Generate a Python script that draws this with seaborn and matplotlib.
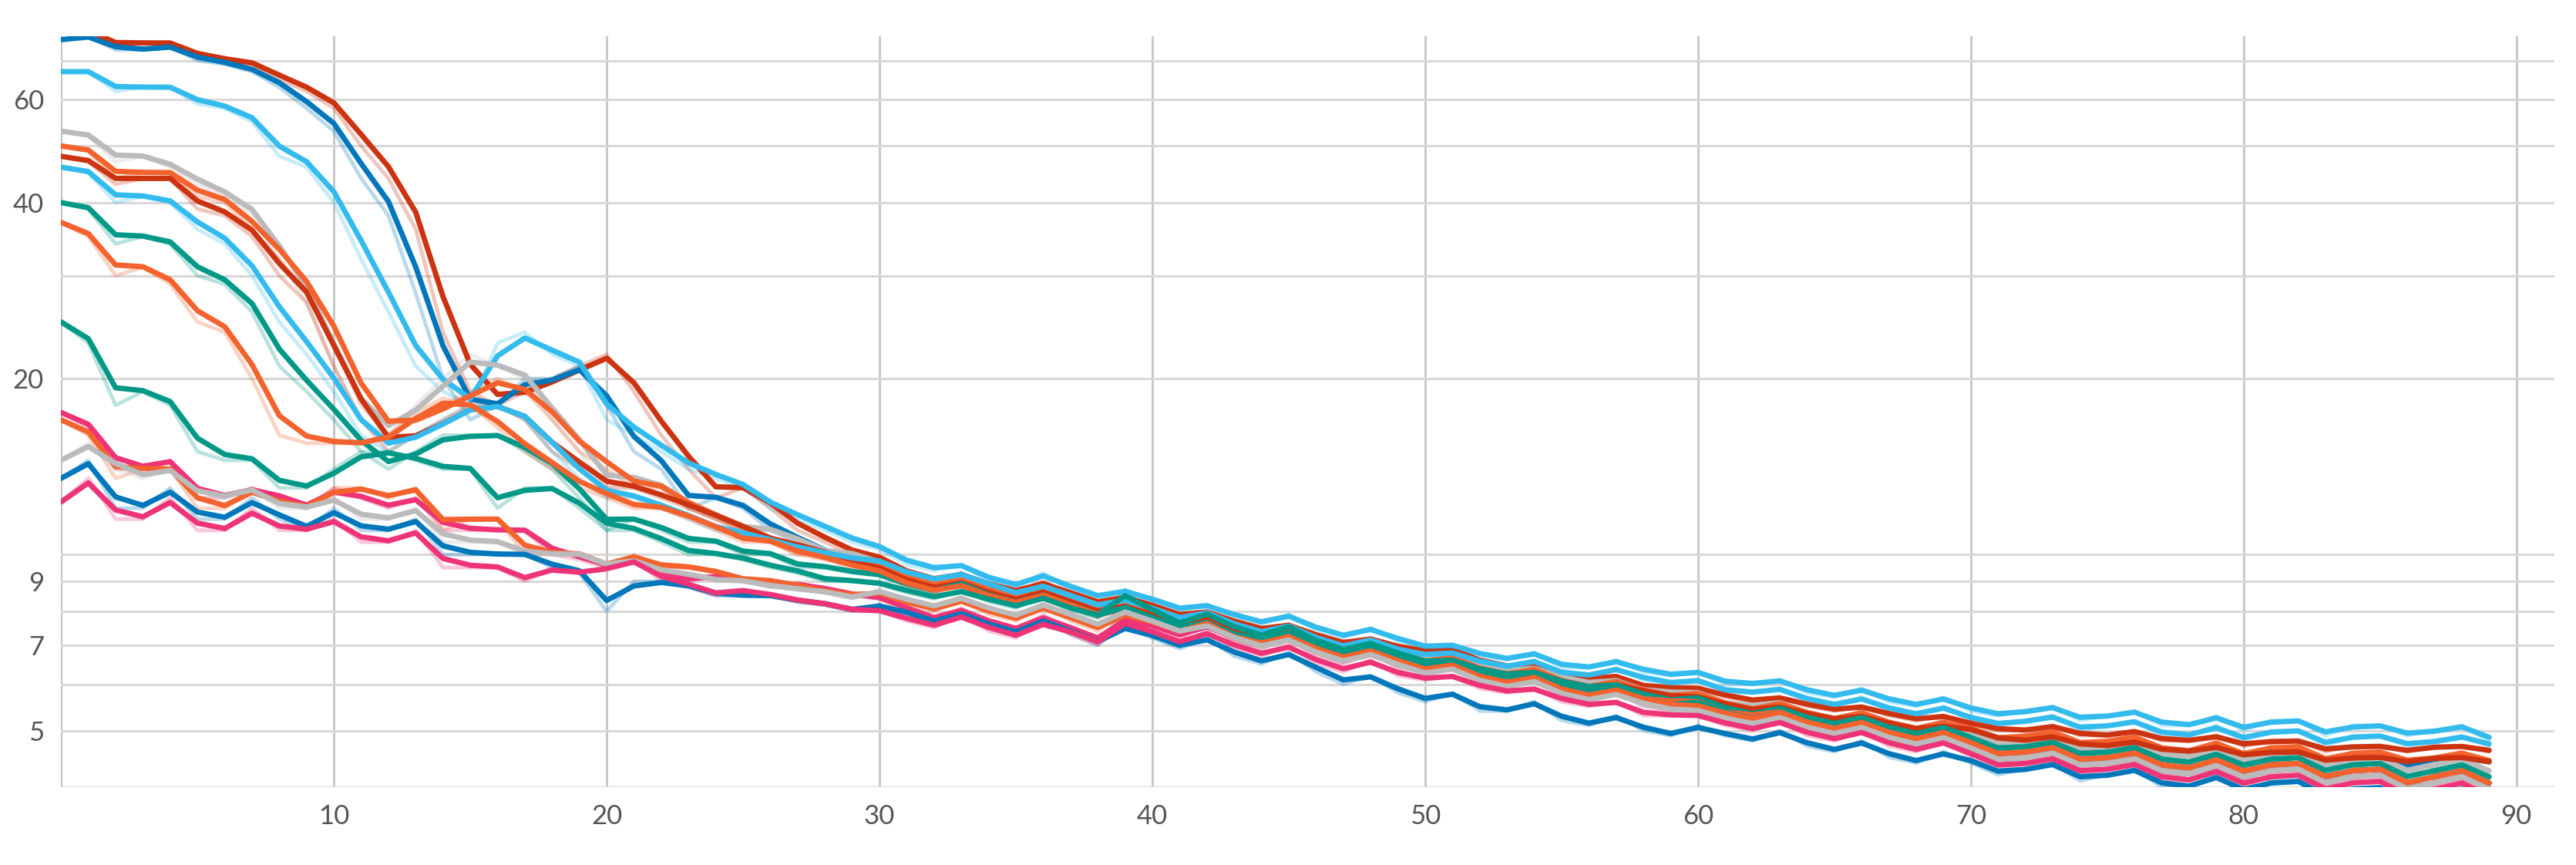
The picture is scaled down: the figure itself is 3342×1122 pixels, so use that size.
import numpy as np
import pandas as pd
import matplotlib.pyplot as plt
import seaborn as sns

# raw values per run, steps 0..89 (head 0..29 + tail 30..89)
head = {
    "A": [78,79,74,75,75,71,70,69,65,62,58,50,44,36,24,19,18,19,20,21,22,19,16,14,12.5,13,12,11,10.5,10],
    "B": [76,77,73,73,74,70,69,67,63,58,53,44,38,28,20,17,18,20,20,21,18,15,14,12,12.5,12,11,10.5,10,9.8],
    "C": [67,67,62,63,63,59,58,55,48,46,40,32,26,21,19,18,23,24,22,21,17,16,15,14,13.5,13,12,11.5,11,10.5],
    "D": [53,52,47,48,46,43,41,38,32,27,21,17,16,18,20,22,21,20,17,15,13,13.5,13,12,11.5,11,11,10.5,10,10],
    "E": [50,49,44,45,45,41,40,36,32,28,23,18,16,17,18,19,20,19,17,15,14,13,13,12,11.5,11,10.5,10,10,9.7],
    "F": [48,47,43,44,44,39,38,35,30,27,21,17,15,16,17,18,18,17,15,14,13,13,12.5,12,11.5,11,10.5,10.3,10,9.6],
    "G": [46,45,40,41,40,36,34,30,25,22,19,16,15,16,17,18,18,17,15,13.5,12.5,12.5,12,11.5,11,10.8,10.5,10.2,10,9.8],
    "H": [40,39,34,35,34,30,29,26,21,19,17,15,14,15,16,16,16,15,14,12.5,11,11.5,11,10.5,10.5,10,10,9.5,9.5,9.3],
    "I": [37,35,30,31,29,25,24,20,16,15.5,15.5,15.5,16,17.5,18.5,18,16.5,15,14,13,12.5,12,12,11.5,11,10.5,10.5,10,9.8,9.5],
    "J": [25,23,18,19,18,15,14.5,14.5,13,13,14,15,15,14.5,14,14,12,13,13,12,11,11,10.5,10,10,9.8,9.5,9.3,9,9],
    "K": [17.5,16.5,14,14,14.5,12.5,12.5,13,12.5,12,13,12.5,12,12.5,11,11,11,11,10,9.8,9.5,9.8,9.2,9,9.2,9,8.8,8.9,8.7,8.5],
    "L": [17,16,13.5,14,14,12,12,13,12.2,12,13,13,12.5,13,11,11.5,11.5,10,10,10,9.5,10,9.5,9.5,9.3,9,9,8.8,8.6,8.5],
    "M": [14.5,15.5,14,13.5,14,12.5,12.5,13,12,12,12.5,11.5,11.5,12,10.5,10.5,10.5,10,10,10,9.5,9.8,9.3,9.2,9,9,8.8,8.7,8.6,8.4],
    "N": [13.5,14.5,12,12,13,11.5,11.5,12.5,11.5,11,12,11,11,11.5,10,10,10,10,9.5,9.3,8,9,9,8.8,8.5,8.5,8.5,8.3,8.2,8],
    "O": [12.3,13.5,11.5,11.5,12.5,11,11,12,11,11,11.5,10.5,10.5,11,9.5,9.5,9.5,9,9.5,9.3,9.5,9.8,9,8.8,8.5,8.7,8.5,8.3,8.2,8],
}
tail = {
    "A": "9.8 9.2 9.0 9.3 8.8 8.6 9.0 8.5 8.2 8.5 8.1 7.8 8.0 7.6 7.4 7.6 7.2 7.0 7.2 6.9 6.8 6.9 6.5 6.4 6.5 6.2 6.1 6.2 5.9 5.9 5.9 5.7 5.6 5.7 5.5 5.4 5.5 5.3 5.2 5.3 5.1 5.0 5.0 5.1 4.9 4.9 5.0 4.8 4.8 4.9 4.7 4.8 4.8 4.6 4.7 4.7 4.6 4.7 4.7 4.6",
    "B": "9.5 9.0 8.7 9.0 8.5 8.3 8.8 8.2 7.9 8.3 7.8 7.5 7.8 7.3 7.1 7.4 6.9 6.7 7.0 6.6 6.4 6.6 6.2 6.1 6.3 5.9 5.8 6.0 5.7 5.6 5.7 5.4 5.4 5.6 5.2 5.2 5.4 5.0 5.0 5.2 4.9 4.7 4.8 4.9 4.6 4.7 4.8 4.5 4.6 4.7 4.4 4.6 4.6 4.3 4.5 4.6 4.3 4.5 4.5 4.4",
    "C": "10.2 9.6 9.4 9.6 9.0 8.8 9.3 8.7 8.4 8.7 8.3 8.0 8.2 7.8 7.6 7.9 7.4 7.2 7.5 7.1 6.9 7.0 6.7 6.6 6.8 6.4 6.4 6.6 6.3 6.2 6.3 6.0 6.0 6.1 5.8 5.7 5.9 5.6 5.5 5.7 5.4 5.3 5.4 5.5 5.2 5.3 5.4 5.1 5.1 5.3 5.0 5.2 5.2 4.9 5.1 5.1 4.9 5.0 5.1 4.8",
    "D": "9.6 9.1 8.9 9.2 8.7 8.5 8.9 8.4 8.1 8.4 8.0 7.7 7.9 7.5 7.3 7.5 7.1 6.9 7.1 6.8 6.6 6.7 6.4 6.3 6.4 6.1 6.0 6.1 5.8 5.8 5.8 5.5 5.5 5.6 5.3 5.2 5.4 5.1 5.0 5.2 4.9 4.7 4.8 4.9 4.6 4.7 4.8 4.5 4.5 4.7 4.4 4.6 4.6 4.3 4.5 4.5 4.2 4.4 4.5 4.2",
    "E": "9.5 9.0 8.8 9.1 8.6 8.4 8.8 8.3 8.0 8.3 7.9 7.6 7.9 7.4 7.2 7.5 7.0 6.8 7.1 6.7 6.5 6.7 6.3 6.2 6.4 6.0 5.9 6.1 5.8 5.7 5.8 5.5 5.4 5.6 5.3 5.2 5.4 5.1 5.0 5.2 5.0 4.8 4.9 5.0 4.7 4.8 4.9 4.6 4.6 4.8 4.5 4.7 4.7 4.4 4.6 4.6 4.4 4.5 4.6 4.4",
    "F": "9.4 8.9 8.7 9.0 8.5 8.3 8.7 8.2 7.9 8.2 7.8 7.5 7.8 7.3 7.1 7.4 6.9 6.8 7.0 6.7 6.5 6.6 6.3 6.2 6.3 6.0 5.9 6.0 5.8 5.7 5.7 5.5 5.4 5.5 5.3 5.2 5.3 5.1 5.0 5.1 5.0 4.8 4.8 4.9 4.7 4.7 4.8 4.6 4.6 4.7 4.5 4.6 4.6 4.4 4.5 4.5 4.4 4.5 4.5 4.4",
    "G": "9.7 9.2 9.0 9.3 8.8 8.5 8.9 8.4 8.1 8.4 8.0 7.7 8.0 7.5 7.3 7.6 7.1 6.9 7.2 6.8 6.7 6.8 6.5 6.4 6.6 6.2 6.2 6.4 6.1 6.0 6.1 5.8 5.8 5.9 5.6 5.5 5.7 5.4 5.3 5.5 5.2 5.1 5.2 5.3 5.0 5.1 5.2 4.9 4.9 5.1 4.8 5.0 5.0 4.7 4.9 4.9 4.7 4.8 4.9 4.7",
    "H": "9.2 8.8 8.6 9.0 8.4 8.2 8.6 8.1 7.8 8.7 7.9 7.5 8.0 7.4 7.2 7.6 7.0 6.8 7.1 6.7 6.5 6.6 6.3 6.2 6.3 6.0 5.9 6.0 5.7 5.6 5.7 5.4 5.3 5.5 5.2 5.1 5.3 5.0 4.9 5.1 4.8 4.6 4.7 4.8 4.5 4.6 4.7 4.4 4.4 4.6 4.3 4.5 4.5 4.2 4.4 4.4 4.1 4.3 4.4 4.1",
    "I": "9.3 8.8 8.6 8.9 8.4 8.2 8.6 8.1 7.8 8.1 7.7 7.4 7.7 7.2 7.0 7.3 6.8 6.6 6.9 6.5 6.4 6.5 6.2 6.1 6.2 5.9 5.8 5.9 5.6 5.6 5.6 5.3 5.3 5.4 5.1 5.0 5.2 4.9 4.8 5.0 4.7 4.5 4.6 4.7 4.4 4.5 4.6 4.3 4.3 4.5 4.2 4.4 4.4 4.1 4.3 4.3 4.0 4.2 4.3 4.0",
    "J": "8.9 8.6 8.4 8.7 8.3 8.1 8.5 8.0 7.8 8.2 7.7 7.4 7.7 7.2 7.1 7.4 6.9 6.7 7.0 6.6 6.4 6.5 6.2 6.1 6.2 5.9 5.8 5.9 5.6 5.5 5.6 5.3 5.2 5.4 5.1 5.0 5.2 4.9 4.8 5.0 4.7 4.5 4.6 4.7 4.4 4.5 4.6 4.3 4.3 4.5 4.2 4.4 4.4 4.1 4.3 4.3 4.0 4.2 4.3 4.0",
    "K": "8.4 8.0 7.7 8.1 7.6 7.4 7.9 7.4 7.1 7.9 7.5 7.2 7.6 7.1 6.9 7.2 6.7 6.5 6.8 6.4 6.3 6.4 6.1 6.0 6.1 5.8 5.7 5.8 5.5 5.4 5.5 5.2 5.1 5.3 5.0 4.9 5.1 4.8 4.7 4.9 4.6 4.4 4.5 4.6 4.3 4.4 4.5 4.2 4.2 4.4 4.1 4.3 4.3 4.0 4.2 4.2 3.9 4.1 4.2 3.9",
    "L": "8.6 8.2 8.0 8.4 7.9 7.7 8.2 7.7 7.4 8.0 7.6 7.3 7.7 7.1 7.0 7.3 6.8 6.6 6.9 6.5 6.3 6.5 6.1 6.0 6.2 5.8 5.7 5.9 5.6 5.5 5.5 5.3 5.2 5.4 5.1 5.0 5.2 4.9 4.8 5.0 4.7 4.5 4.6 4.7 4.4 4.5 4.6 4.3 4.3 4.5 4.2 4.4 4.4 4.1 4.3 4.3 4.0 4.2 4.3 4.0",
    "M": "8.7 8.3 8.1 8.5 8.0 7.8 8.3 7.8 7.5 8.1 7.6 7.3 7.6 7.1 6.9 7.2 6.7 6.5 6.8 6.4 6.2 6.4 6.0 5.9 6.1 5.7 5.6 5.8 5.5 5.4 5.4 5.2 5.1 5.3 5.0 4.9 5.1 4.8 4.7 4.9 4.6 4.4 4.5 4.6 4.3 4.4 4.5 4.2 4.2 4.4 4.1 4.3 4.3 4.0 4.2 4.2 3.9 4.1 4.2 3.9",
    "N": "8.2 7.9 7.6 8.0 7.5 7.3 7.8 7.3 7.0 7.6 7.2 6.9 7.2 6.7 6.5 6.8 6.3 6.0 6.2 5.8 5.6 5.8 5.4 5.4 5.6 5.2 5.1 5.3 5.0 4.9 5.1 4.9 4.8 5.0 4.7 4.6 4.8 4.5 4.4 4.6 4.4 4.2 4.3 4.4 4.1 4.2 4.3 4.0 4.0 4.2 3.9 4.1 4.1 3.8 4.0 4.0 3.7 3.9 4.0 3.7",
    "O": "8.0 7.7 7.5 7.9 7.4 7.2 7.7 7.3 7.0 7.8 7.3 7.0 7.4 6.9 6.7 7.0 6.5 6.3 6.6 6.2 6.1 6.2 5.9 5.8 5.9 5.6 5.5 5.6 5.3 5.3 5.3 5.1 5.0 5.2 4.9 4.8 5.0 4.7 4.6 4.8 4.5 4.3 4.4 4.5 4.2 4.3 4.4 4.1 4.1 4.3 4.0 4.2 4.2 3.9 4.1 4.1 3.8 4.0 4.1 3.8",
}
colors = {
    "A": "#cc3311", "B": "#0077bb", "C": "#33bbee", "D": "#bbbbbb", "E": "#f4622d",
    "F": "#cc3311", "G": "#33bbee", "H": "#009988", "I": "#f4622d", "J": "#009988",
    "K": "#ee3377", "L": "#f4622d", "M": "#bbbbbb", "N": "#0077bb", "O": "#ee3377",
}
x_ticks = [10, 20, 30, 40, 50, 60, 70, 80, 90]
y_grid = [4, 5, 6, 7, 8, 9, 10, 20, 30, 40, 50, 60, 70]
y_labels = {5: "5", 7: "7", 9: "9", 20: "20", 40: "40", 60: "60"}

frames = []
for run in head:
    vals = head[run] + [float(v) for v in tail[run].split()]
    df = pd.DataFrame({"step": np.arange(len(vals)), "value": vals, "run": run})
    df["smooth"] = df["value"].ewm(alpha=0.75).mean()
    frames.append(df)
data = pd.concat(frames, ignore_index=True)

sns.set_style("white")
plt.rcParams['font.family'] = ['Lato', 'DejaVu Sans']
fig = plt.figure(figsize=(33.42, 11.22), dpi=100)
ax = fig.add_axes([0.0237, 0.09, 0.968, 0.868])

sns.lineplot(data=data, x="step", y="value", hue="run", palette=colors,
             alpha=0.28, linewidth=3.5, legend=False, ax=ax)
sns.lineplot(data=data, x="step", y="smooth", hue="run", palette=colors,
             linewidth=5, legend=False, ax=ax)

ax.set_yscale("log")
ax.set_xlim(0, 91.4)
ax.set_ylim(4.22, 77)
ax.set_yticks(y_grid)
ax.set_yticklabels([y_labels.get(v, "") for v in y_grid])
ax.minorticks_off()
ax.set_xticks(x_ticks)
ax.set_xticklabels([str(v) for v in x_ticks])
ax.grid(axis="y", color="#d8d8d8", linewidth=2.2)
ax.grid(axis="x", color="#c4c4c4", linewidth=2)
ax.axvline(0, color="#c4c4c4", linewidth=3, zorder=0)
for s in ax.spines.values():
    s.set_visible(False)
ax.tick_params(axis="both", length=0, labelsize=25, labelcolor="#555555", pad=16)
ax.set_xlabel("")
ax.set_ylabel("")
fig.savefig("out.png", dpi=100)
